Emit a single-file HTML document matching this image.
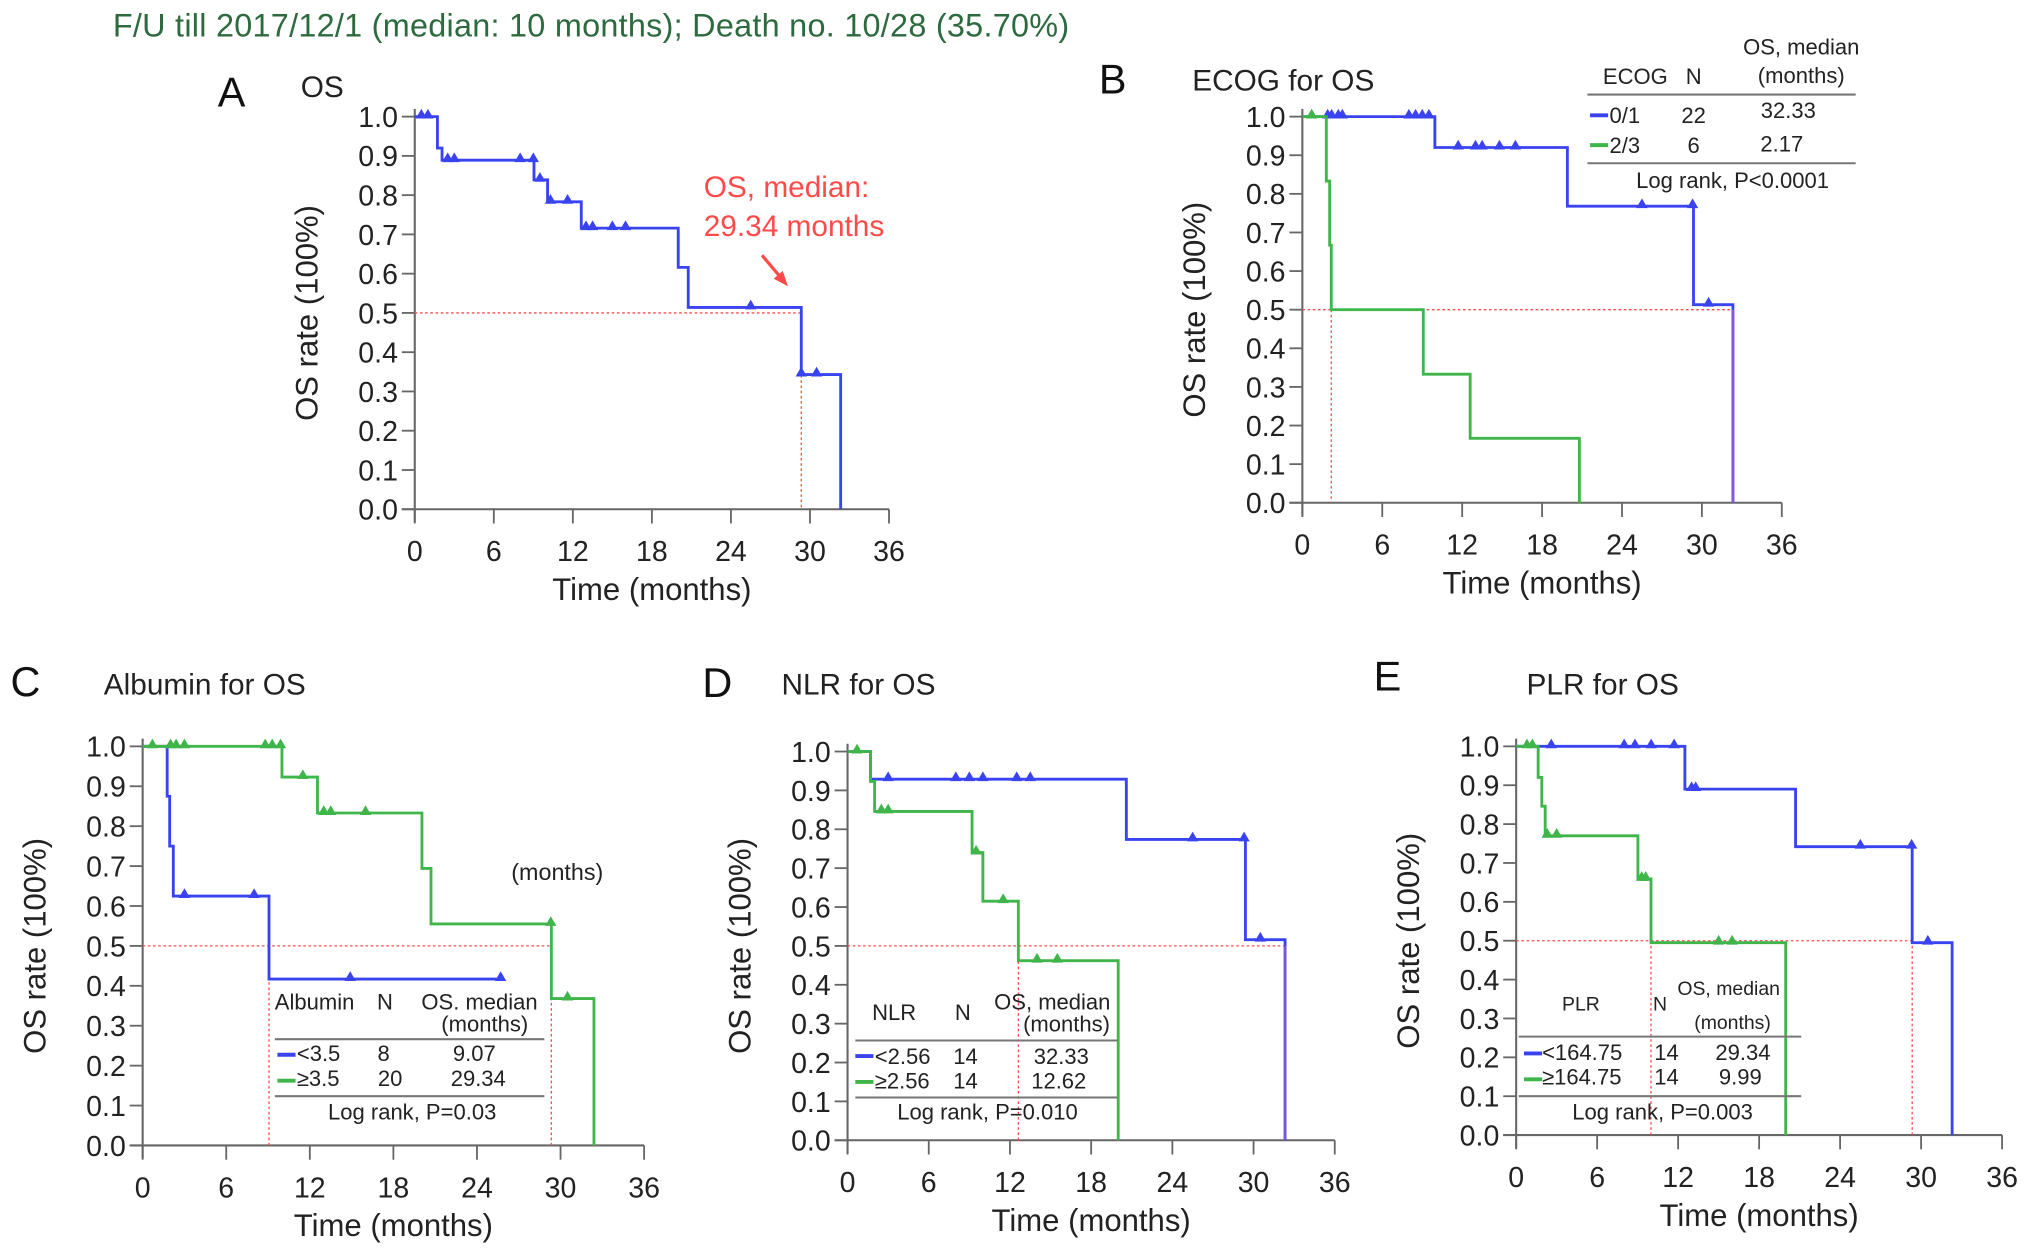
<!DOCTYPE html>
<html><head><meta charset="utf-8">
<style>
html,body{margin:0;padding:0;background:#fff;}
svg{display:block;font-family:"Liberation Sans",Arial,sans-serif;}
</style></head>
<body>
<svg id="fig" xmlns="http://www.w3.org/2000/svg" width="2032" height="1253" viewBox="0 0 1568 967">
<text x="87" y="28" font-size="25" fill="#2d6a3e" textLength="738" lengthAdjust="spacing">F/U till 2017/12/1 (median: 10 months); Death no. 10/28 (35.70%)</text>
</svg>
<script>
// ===== Panel A data =====
const aBlueDropT = [1.72, 2.07, 9.05, 10.08, 12.64, 20.0, 20.76, 29.34, 32.33];
const aBlueSurv  = [0.92, 0.889, 0.839, 0.783, 0.716, 0.616, 0.514, 0.343, 0];
const aBlueCensT = [0.5, 1.0, 2.5, 3.0, 8.0, 9.0, 9.5, 10.3, 11.6, 13.0, 13.5, 15.0, 16.0, 25.5, 29.34, 30.5];
// ===== Panel B data =====
const bBlueDropT = [9.95, 19.9, 29.37, 32.33];
const bBlueSurv  = [0.92, 0.768, 0.513, 0];
const bBlueCensT = [0.7, 1.9, 2.2, 2.7, 3.0, 8.0, 8.5, 9.0, 9.5, 11.7, 13.0, 13.5, 14.8, 16.0, 25.5, 29.3, 30.5];
const bGreenDropT = [1.8, 2.05, 2.17, 9.08, 12.6, 20.8];
const bGreenSurv  = [0.833, 0.667, 0.5, 0.333, 0.167, 0];
const bGreenCensT = [0.7];
// ===== Panel C data =====
const cBlueDropT = [1.76, 1.94, 2.2, 9.07];
const cBlueSurv  = [0.875, 0.75, 0.625, 0.417];
const cBlueEnd   = 25.7;
const cBlueCensT = [3.0, 8.0, 14.9, 25.7];
const cGreenDropT = [10.0, 12.55, 20.05, 20.7, 29.34, 32.4];
const cGreenSurv  = [0.923, 0.833, 0.694, 0.555, 0.368, 0];
const cGreenCensT = [0.7, 2.0, 2.4, 3.0, 8.8, 9.3, 9.9, 11.5, 13.0, 13.5, 16.0, 29.3, 30.5];
// ===== Panel D data =====
const dBlueDropT = [1.7, 20.6, 29.4, 32.33];
const dBlueSurv  = [0.929, 0.774, 0.516, 0];
const dBlueCensT = [3.0, 8.0, 9.0, 10.0, 12.5, 13.5, 25.5, 29.3, 30.5];
const dGreenDropT = [1.7, 2.0, 9.2, 10.0, 12.62, 20.0];
const dGreenSurv  = [0.923, 0.846, 0.74, 0.615, 0.462, 0];
const dGreenCensT = [0.7, 2.5, 3.0, 9.5, 11.5, 14.0, 15.5];
// ===== Panel E data =====
const eBlueDropT = [12.5, 20.7, 29.34, 32.3];
const eBlueSurv  = [0.89, 0.742, 0.495, 0];
const eBlueCensT = [2.6, 8.0, 8.8, 10.0, 11.7, 13.0, 13.3, 25.5, 29.3, 30.5];
const eGreenDropT = [1.63, 1.9, 2.15, 9.02, 9.99, 19.97];
const eGreenSurv  = [0.92, 0.846, 0.77, 0.659, 0.495, 0];
const eGreenCensT = [0.8, 1.2, 2.3, 3.0, 9.3, 9.6, 15.0, 16.0];
// ===== Axis ticks =====
const yTicks = [0.0,0.1,0.2,0.3,0.4,0.5,0.6,0.7,0.8,0.9,1.0];
const xTicks = [0,6,12,18,24,30,36];

const NS = "http://www.w3.org/2000/svg";
const svg = document.getElementById('fig');
const BLUE = "#3a43f0", GREEN = "#3fb54a", RED = "#ff4a4a", AX = "#666";
function mk(tag, attrs, parent, text){
  const e = document.createElementNS(NS, tag);
  for (const k in attrs) e.setAttribute(k, attrs[k]);
  if (text !== undefined) e.textContent = text;
  (parent || svg).appendChild(e);
  return e;
}
function survAt(dropT, surv, t){
  let s = 1;
  for (let i = 0; i < dropT.length; i++) if (dropT[i] <= t) s = surv[i];
  return s;
}
function makePanel(id, P){
  const g = mk('g', {});
  
  
  const sx = t => P.x0 + t / 36 * (P.x1 - P.x0);
  const sy = v => P.yb - v * (P.yb - P.yt);
  P.sx = sx; P.sy = sy; P.g = g;
  const ya = mk('line', {x1:sx(0), y1:sy(1)-6, x2:sx(0), y2:sy(0)+10, stroke:AX, 'stroke-width':1.6}, g);
  
  
  const xa = mk('line', {x1:sx(0)-10, y1:sy(0), x2:sx(36), y2:sy(0), stroke:AX, 'stroke-width':1.6}, g);
  
  
  yTicks.forEach(v => {
    mk('line', {x1:sx(0)-10, y1:sy(v), x2:sx(0), y2:sy(v), stroke:AX, 'stroke-width':1.4}, g);
    const t = mk('text', {x:sx(0)-13, y:sy(v)+8, 'font-size':22, 'text-anchor':'end', fill:'#222'}, g, v.toFixed(1));
    
    
  });
  xTicks.forEach(v => {
    mk('line', {x1:sx(v), y1:sy(0), x2:sx(v), y2:sy(0)+11, stroke:AX, 'stroke-width':1.4}, g);
    const t = mk('text', {x:sx(v), y:sy(0)+40, 'font-size':22, 'text-anchor':'middle', fill:'#222'}, g, String(v));
    
    
  });
  const cy = (sy(0) + sy(1)) / 2, ax = sx(0) - 75;
  const yt = mk('text', {x:ax, y:cy, 'font-size':24, 'text-anchor':'middle', fill:'#222', transform:`rotate(-90 ${ax} ${cy})`}, g, 'OS  rate (100%)');
  
  
  const xt = mk('text', {x:(sx(0)+sx(36))/2, y:sy(0)+70, 'font-size':24, 'text-anchor':'middle', fill:'#222'}, g, 'Time (months)');
  
  
  const L = mk('text', {x:P.lx, y:P.ly, 'font-size':32, fill:'#111'}, g, P.letter);
  
  
  const T = mk('text', {x:P.tx, y:P.ty, 'font-size':23, fill:'#222'}, g, P.title);
  
  
  return P;
}
function medianLines(P, meds, hEnd){
  const {sx, sy, g} = P;
  const h = mk('line', {x1:sx(0), y1:sy(0.5), x2:sx(hEnd), y2:sy(0.5), stroke:RED, 'stroke-width':1, 'stroke-dasharray':'2,2'}, g);
  
  
  meds.forEach(m => {
    const v = mk('line', {x1:sx(m), y1:sy(0.5), x2:sx(m), y2:sy(0), stroke:RED, 'stroke-width':1, 'stroke-dasharray':'2,2'}, g);
    
    
  });
}
function curve(P, name, color, dropT, surv, censT, endT){
  const {sx, sy, g} = P;
  let d = `M${sx(0)},${sy(1)}`;
  for (let i = 0; i < dropT.length; i++){
    d += ` H${sx(dropT[i])} V${sy(surv[i])}`;
  }
  if (endT !== undefined) d += ` H${sx(endT)}`;
  const p = mk('path', {d:d, fill:'none', stroke:color, 'stroke-width':2.2}, g);
  
  
  censT.forEach(t => {
    const v = survAt(dropT, surv, t), x = sx(t), y = sy(v);
    const m = mk('path', {d:`M${x-3.5},${y+1} L${x},${y-5} L${x+3.5},${y+1} Z`, fill:color, stroke:color, 'stroke-width':1}, g);
    
    
  });
}
function txt(P, x, y, s, size, anchor, name, fill){
  const t = mk('text', {x:x, y:y, 'font-size':size, 'text-anchor':anchor||'start', fill:fill||'#222'}, P.g, s);
  
  
  return t;
}
function legendLine(P, x1, x2, y, name){
  const l = mk('line', {x1:x1, y1:y, x2:x2, y2:y, stroke:'#777', 'stroke-width':1.6}, P.g);
  
  
}
function swatch(P, x, y, color){
  const l = mk('line', {x1:x, y1:y, x2:x+14, y2:y, stroke:color, 'stroke-width':3}, P.g);
  
  
}

// ---- Panel A
const A = makePanel('os-a', {x0:320, x1:686, yt:90, yb:393, letter:'A', lx:168, ly:82, title:'OS', tx:232, ty:75});
medianLines(A, [29.34], 29.34);
curve(A, 'overall', BLUE, aBlueDropT, aBlueSurv, aBlueCensT);
txt(A, 543, 152, 'OS, median:', 23, 'start', 'median-annotation', RED);
txt(A, 543, 182, '29.34 months', 23, 'start', 'median-annotation', RED);
const arr = mk('path', {d:'M588,197 L604,216', stroke:RED, 'stroke-width':2.5, fill:'none'}, A.g);


const arh = mk('path', {d:'M608,221 L597,215 L604,209 Z', fill:RED}, A.g);



// ---- Panel B
const B = makePanel('ecog-b', {x0:1005, x1:1375, yt:90, yb:388, letter:'B', lx:848, ly:72, title:'ECOG for OS', tx:920, ty:70});
medianLines(B, [2.17], 32.33);
curve(B, 'ecog-0-1', BLUE, bBlueDropT, bBlueSurv, bBlueCensT);
curve(B, 'ecog-2-3', GREEN, bGreenDropT, bGreenSurv, bGreenCensT);
const bv = mk('line', {x1:B.sx(32.33), y1:B.sy(0.5), x2:B.sx(32.33), y2:B.sy(0), stroke:'#8a55d8', 'stroke-width':2}, B.g);


txt(B, 1262, 65, 'ECOG', 17, 'middle', 'legend-header');
txt(B, 1307, 65, 'N', 17, 'middle', 'legend-header');
txt(B, 1390, 42, 'OS, median', 17, 'middle', 'legend-header');
txt(B, 1390, 64, '(months)', 17, 'middle', 'legend-header');
legendLine(B, 1225, 1432, 73, 'legend-rule');
swatch(B, 1227, 89, BLUE); txt(B, 1242, 95, '0/1', 17, 'start', 'legend-entry');
txt(B, 1307, 95, '22', 17, 'middle', 'legend-entry'); txt(B, 1380, 91, '32.33', 17, 'middle', 'legend-entry');
swatch(B, 1227, 112, GREEN); txt(B, 1242, 118, '2/3', 17, 'start', 'legend-entry');
txt(B, 1307, 118, '6', 17, 'middle', 'legend-entry'); txt(B, 1375, 117, '2.17', 17, 'middle', 'legend-entry');
legendLine(B, 1225, 1432, 126, 'legend-rule');
txt(B, 1337, 145, 'Log rank, P<0.0001', 17, 'middle', 'legend-pvalue');

// ---- Panel C
const C = makePanel('albumin-c', {x0:110, x1:497, yt:576, yb:884, letter:'C', lx:8, ly:537, title:'Albumin for OS', tx:80, ty:536});
medianLines(C, [9.07, 29.34], 29.34);
curve(C, 'albumin-low', BLUE, cBlueDropT, cBlueSurv, cBlueCensT, cBlueEnd);
curve(C, 'albumin-high', GREEN, cGreenDropT, cGreenSurv, cGreenCensT);
txt(C, 430, 679, '(months)', 18, 'middle', 'stray-label');
txt(C, 212, 779, 'Albumin', 17, 'start', 'legend-header');
txt(C, 297, 779, 'N', 17, 'middle', 'legend-header');
txt(C, 370, 779, 'OS. median', 17, 'middle', 'legend-header');
txt(C, 374, 796, '(months)', 17, 'middle', 'legend-header');
legendLine(C, 212, 420, 802, 'legend-rule');
swatch(C, 214, 814, BLUE); txt(C, 229, 819, '<3.5', 17, 'start', 'legend-entry');
txt(C, 296, 819, '8', 17, 'middle', 'legend-entry'); txt(C, 366, 819, '9.07', 17, 'middle', 'legend-entry');
swatch(C, 214, 834, GREEN); txt(C, 229, 838, '≥3.5', 17, 'start', 'legend-entry');
txt(C, 301, 838, '20', 17, 'middle', 'legend-entry'); txt(C, 369, 838, '29.34', 17, 'middle', 'legend-entry');
legendLine(C, 212, 420, 846, 'legend-rule');
txt(C, 318, 864, 'Log rank, P=0.03', 17, 'middle', 'legend-pvalue');

// ---- Panel D
const D = makePanel('nlr-d', {x0:654, x1:1030, yt:580, yb:880, letter:'D', lx:542, ly:538, title:'NLR for OS', tx:603, ty:536});
medianLines(D, [12.62], 32.33);
curve(D, 'nlr-low', BLUE, dBlueDropT, dBlueSurv, dBlueCensT);
curve(D, 'nlr-high', GREEN, dGreenDropT, dGreenSurv, dGreenCensT);
const dv = mk('line', {x1:D.sx(32.33), y1:D.sy(0.5), x2:D.sx(32.33), y2:D.sy(0), stroke:'#7a55d8', 'stroke-width':2}, D.g);


txt(D, 673, 787, 'NLR', 17, 'start', 'legend-header');
txt(D, 743, 787, 'N', 17, 'middle', 'legend-header');
txt(D, 812, 779, 'OS, median', 17, 'middle', 'legend-header');
txt(D, 823, 796, '(months)', 17, 'middle', 'legend-header');
legendLine(D, 660, 862, 803, 'legend-rule');
swatch(D, 660, 815, BLUE); txt(D, 675, 821, '<2.56', 17, 'start', 'legend-entry');
txt(D, 745, 821, '14', 17, 'middle', 'legend-entry'); txt(D, 819, 821, '32.33', 17, 'middle', 'legend-entry');
swatch(D, 660, 835, GREEN); txt(D, 675, 840, '≥2.56', 17, 'start', 'legend-entry');
txt(D, 745, 840, '14', 17, 'middle', 'legend-entry'); txt(D, 817, 840, '12.62', 17, 'middle', 'legend-entry');
legendLine(D, 660, 862, 847, 'legend-rule');
txt(D, 762, 864, 'Log rank, P=0.010', 17, 'middle', 'legend-pvalue');

// ---- Panel E
const E = makePanel('plr-e', {x0:1170, x1:1545, yt:576, yb:876, letter:'E', lx:1060, ly:533, title:'PLR for OS', tx:1178, ty:536});
medianLines(E, [9.99, 29.34], 29.34);
curve(E, 'plr-low', BLUE, eBlueDropT, eBlueSurv, eBlueCensT);
curve(E, 'plr-high', GREEN, eGreenDropT, eGreenSurv, eGreenCensT);
txt(E, 1220, 780, 'PLR', 15, 'middle', 'legend-header');
txt(E, 1281, 780, 'N', 15, 'middle', 'legend-header');
txt(E, 1334, 768, 'OS, median', 15, 'middle', 'legend-header');
txt(E, 1337, 794, '(months)', 15, 'middle', 'legend-header');
legendLine(E, 1172, 1390, 800, 'legend-rule');
swatch(E, 1176, 813, BLUE); txt(E, 1190, 818, '<164.75', 17, 'start', 'legend-entry');
txt(E, 1286, 818, '14', 17, 'middle', 'legend-entry'); txt(E, 1345, 818, '29.34', 17, 'middle', 'legend-entry');
swatch(E, 1176, 833, GREEN); txt(E, 1190, 837, '≥164.75', 17, 'start', 'legend-entry');
txt(E, 1286, 837, '14', 17, 'middle', 'legend-entry'); txt(E, 1343, 837, '9.99', 17, 'middle', 'legend-entry');
legendLine(E, 1172, 1390, 846, 'legend-rule');
txt(E, 1283, 864, 'Log rank, P=0.003', 17, 'middle', 'legend-pvalue');
</script>
</body></html>
